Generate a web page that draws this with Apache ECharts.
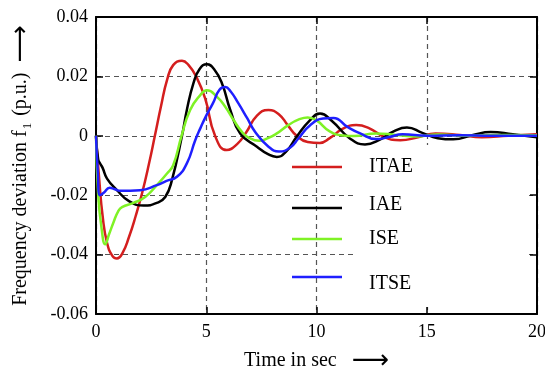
<!DOCTYPE html>
<html>
<head>
<meta charset="utf-8">
<script src="https://cdn.jsdelivr.net/npm/echarts@6/dist/echarts.min.js"></script>
<style>
  html, body { margin: 0; padding: 0; background: #fff; }
  #main { width: 545px; height: 369px; }
</style>
</head>
<body>
<div id="main"></div>
<script>
// time (s), frequency deviation f1 (p.u.)
var itaeData = [
  [0, 0], [0.15, -0.015], [0.3, -0.027], [0.5, -0.036], [0.75, -0.0405], [0.95, -0.0413],
  [1.2, -0.0395], [1.5, -0.034], [1.8, -0.027], [2.1, -0.019], [2.4, -0.0095], [2.67, 0],
  [2.95, 0.01], [3.23, 0.019], [3.5, 0.0238], [3.9, 0.0253], [4.2, 0.0238], [4.54, 0.02],
  [4.95, 0.0126], [5.4, 0], [5.93, -0.0048], [6.4, -0.0028], [6.8, 0.001], [7.3, 0.0068],
  [7.82, 0.0087], [8.3, 0.0072], [8.7, 0.0035], [9.1, 0], [9.6, -0.0021], [10.15, -0.0024],
  [10.6, -0.0008], [11.2, 0.0024], [11.8, 0.0036], [12.4, 0.0025], [13.1, -0.0005],
  [13.8, -0.0015], [14.6, -0.0005], [15.4, 0.0008], [16.5, 0.0003], [17.5, -0.0005],
  [18.7, 0], [20, 0.0005]
];
var iaeData = [
  [0, 0], [0.1, -0.008], [0.2, -0.0095], [0.3, -0.0108], [0.5, -0.0144], [0.95, -0.0183],
  [1.48, -0.0219], [2.16, -0.0235], [2.76, -0.0226], [3.14, -0.0206], [3.44, -0.015],
  [3.9, 0], [4.12, 0.0087], [4.42, 0.0177], [4.7, 0.0225], [5.03, 0.0241], [5.35, 0.0225],
  [5.71, 0.0177], [6.09, 0.0087], [6.54, 0.0008], [7.3, -0.0037], [7.8, -0.0062],
  [8.2, -0.0071], [8.6, -0.0055], [9.1, -0.0003], [9.71, 0.0053], [10.16, 0.0075],
  [10.7, 0.005], [11.5, -0.0008], [12.2, -0.0029], [12.9, -0.0012], [13.5, 0.0015],
  [14.1, 0.0028], [14.8, 0.001], [15.5, -0.0008], [16.2, -0.0012], [17.1, 0.0003],
  [17.9, 0.0013], [18.9, 0.0005], [20, -0.0005]
];
var iseData = [
  [0, 0], [0.1, -0.02], [0.25, -0.031], [0.42, -0.0365], [0.6, -0.033], [0.8, -0.029],
  [1.0, -0.0255], [1.18, -0.024], [1.7, -0.0226], [2.23, -0.0206], [2.76, -0.0166],
  [3.22, -0.0127], [3.5, -0.0099], [3.88, 0], [4.27, 0.0087], [4.73, 0.0137], [5.03, 0.0153],
  [5.5, 0.013], [5.86, 0.0098], [6.24, 0.0053], [6.6, 0.0015], [6.9, -0.0005], [7.4, -0.0017],
  [7.8, -0.0008], [8.2, 0.0008], [8.7, 0.0035], [9.2, 0.0055], [9.6, 0.0062], [10.0, 0.0052],
  [10.6, 0.0015], [11.2, 0.0001], [11.7, -0.0001], [12.7, 0.0008], [13.6, 0.0003],
  [14.5, -0.0002], [15.5, 0.0004], [17, 0], [18.5, 0.0003], [20, 0.0002]
];
var itseData = [
  [0, 0], [0.08, -0.012], [0.18, -0.02], [0.35, -0.0192], [0.62, -0.0175], [0.85, -0.018],
  [1.1, -0.0185], [2.0, -0.0183], [2.76, -0.0166], [3.2, -0.0152], [3.67, -0.0138],
  [4.12, -0.0093], [4.5, -0.0015], [4.73, 0.0025], [5.0, 0.0068], [5.3, 0.0109],
  [5.6, 0.0155], [5.86, 0.0164], [6.1, 0.015], [6.46, 0.0109], [6.85, 0.006], [7.22, 0.0013],
  [7.8, -0.0035], [8.3, -0.0053], [8.8, -0.004], [9.18, -0.0009], [9.7, 0.0035],
  [10.3, 0.0058], [10.77, 0.006], [11.4, 0.003], [11.98, 0.0008], [12.7, -0.0011],
  [13.3, -0.0004], [13.9, 0.0005], [15, 0], [16.5, 0.0002], [18, 0], [20, 0]
];
var seriesNames = ['ITAE', 'IAE', 'ISE', 'ITSE'];
var seriesColors = ['#d41e1e', '#000000', '#7ff225', '#1f1fff'];
var seriesData = [itaeData, iaeData, iseData, itseData];
// legend rows are not evenly spaced in the original; text sits a bit off its line for IAE / ITSE
var legendTops = [157, 195, 229, 274];
var legendTextPad = [[0, 0, 0, 22], [0, 0, 6, 22], [0, 0, 0, 22], [14, 0, 0, 22]];

var font = 'Liberation Serif, Times New Roman, serif';
var chart = echarts.init(document.getElementById('main'));

var gridLine = { show: true, lineStyle: { color: '#555', type: [5, 4], width: 1.2 } };
var frameLine = { show: true, onZero: false, lineStyle: { color: '#000', width: 2 } };
var tick = { show: true, inside: true, length: 7, lineStyle: { color: '#000', width: 1.5 } };

var option = {
  backgroundColor: '#fff',
  animation: false,
  grid: { left: 96, right: 8, top: 17, bottom: 55, containLabel: false, outerBoundsMode: 'none' },
  xAxis: [{
    type: 'value', min: 0, max: 20, interval: 5, position: 'bottom',
    axisLine: frameLine, axisTick: tick, splitLine: gridLine,
    axisLabel: { color: '#000', fontFamily: font, fontSize: 18, margin: 9 },
    name: 'Time in sec   {arr|⟶}', nameLocation: 'middle', nameGap: 34,
    nameTextStyle: {
      color: '#000', fontFamily: font, fontSize: 20,
      rich: { arr: { fontFamily: 'DejaVu Sans', fontSize: 26, color: '#000' } }
    }
  }, {
    type: 'value', min: 0, max: 20, interval: 5, position: 'top',
    axisLine: frameLine, axisTick: tick, splitLine: { show: false }, axisLabel: { show: false }
  }],
  yAxis: [{
    type: 'value', min: -0.06, max: 0.04, interval: 0.02, position: 'left',
    axisLine: frameLine, axisTick: tick, splitLine: gridLine,
    axisLabel: {
      color: '#000', fontFamily: font, fontSize: 18, margin: 8,
      formatter: function (v) { return Math.abs(v) < 1e-9 ? '0' : v.toFixed(2); }
    },
    name: 'Frequency deviation f{sub|1} (p.u.)  {arr|⟶}', nameLocation: 'middle', nameGap: 62,
    nameRotate: 90,
    nameTextStyle: {
      color: '#000', fontFamily: font, fontSize: 20,
      rich: {
        sub: { fontFamily: font, fontSize: 13, verticalAlign: 'bottom', padding: [0, 2, 0, 1], color: '#000' },
        arr: { fontFamily: 'DejaVu Sans', fontSize: 26, color: '#000' }
      }
    }
  }, {
    type: 'value', min: -0.06, max: 0.04, interval: 0.02, position: 'right',
    axisLine: frameLine, axisTick: tick, splitLine: { show: false }, axisLabel: { show: false }
  }],
  legend: seriesNames.map(function (n, i) {
    return {
      data: [n], left: 292, top: legendTops[i], orient: 'vertical', padding: 0,
      icon: 'rect', itemWidth: 50, itemHeight: 2.5,
      formatter: function (name) { return '{a|' + name + '}'; },
      textStyle: {
        color: '#000', fontFamily: font, fontSize: 20,
        rich: { a: { color: '#000', fontFamily: font, fontSize: 20, padding: legendTextPad[i] } }
      }
    };
  }),
  graphic: [{
    type: 'rect', z: 1, silent: true,
    shape: { x: 354, y: 145, width: 175, height: 162 },
    style: { fill: '#fff' }
  }],
  series: seriesNames.map(function (n, i) {
    return {
      name: n, type: 'line', data: seriesData[i], smooth: true, showSymbol: false,
      xAxisIndex: 0, yAxisIndex: 0,
      lineStyle: { color: seriesColors[i], width: 2.5 },
      itemStyle: { color: seriesColors[i] }
    };
  })
};
chart.setOption(option);
</script>
</body>
</html>
